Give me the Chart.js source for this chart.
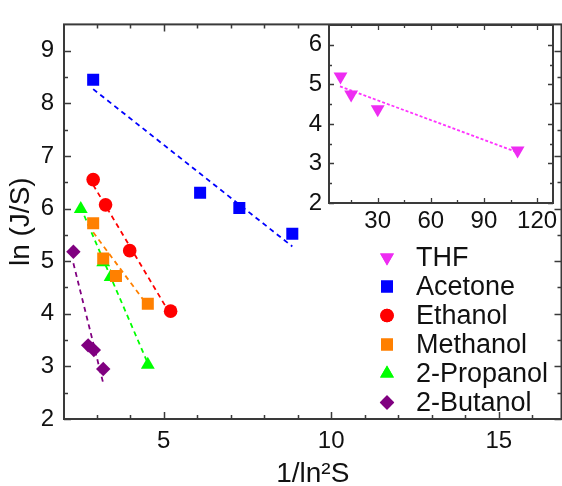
<!DOCTYPE html>
<html><head><meta charset="utf-8">
<script src="https://cdn.jsdelivr.net/npm/chart.js@4/dist/chart.umd.min.js"></script>
<style>
html,body{margin:0;padding:0;background:#fff;overflow:hidden;width:562px;height:486px;}
#main{position:absolute;left:0;top:0;width:570px;height:486px;}
#inset{position:absolute;left:280px;top:0;width:282px;height:240px;}
</style></head><body>
<div id="main"><canvas id="c1" width="570" height="486"></canvas></div>
<div id="inset"><canvas id="c2" width="282" height="240"></canvas></div>
<script>
// ---- data ----
const acetoneX  = [2.90, 6.09, 7.26, 8.84];
const acetoneY  = [8.45, 6.30, 6.01, 5.52];
const ethanolX  = [2.90, 3.27, 3.99, 5.21];
const ethanolY  = [6.55, 6.07, 5.20, 4.05];
const methanolX = [2.90, 3.20, 3.58, 4.53];
const methanolY = [5.72, 5.05, 4.72, 4.19];
const propanolX = [2.53, 3.20, 3.42, 4.53];
const propanolY = [5.99, 4.98, 4.70, 3.03];
const butanolX  = [2.31, 2.75, 2.92, 3.20];
const butanolY  = [5.18, 3.40, 3.31, 2.95];
const thfX      = [9, 15, 30, 109];
const thfY      = [5.20, 4.74, 4.37, 3.33];

// dashed fit lines (end points)
const acetoneFitX  = [2.90, 8.84]; const acetoneFitY  = [8.27, 5.28];
const ethanolFitX  = [2.90, 5.21]; const ethanolFitY  = [6.45, 3.98];
const methanolFitX = [2.90, 4.53]; const methanolFitY = [5.55, 4.15];
const propanolFitX = [2.53, 4.53]; const propanolFitY = [6.02, 3.06];
const butanolFitX  = [2.31, 3.20]; const butanolFitY  = [4.96, 2.68];
const thfFitX      = [8.7, 109];   const thfFitY      = [4.95, 3.28];

// tick labels
const mainXTicks = [5, 10, 15];
const mainYTicks = [2, 3, 4, 5, 6, 7, 8, 9];
const insetXTicks = [30, 60, 90, 120];
const insetYTicks = [2, 3, 4, 5, 6];
const mainXMinor = [3,4,6,7,8,9,11,12,13,14,16];
const mainYMinor = [2.5,3.5,4.5,5.5,6.5,7.5,8.5];
const insetXMinor = [15,45,75,105];
const insetYMinor = [2.5,3.5,4.5,5.5];

const legendLabels = ['THF','Acetone','Ethanol','Methanol','2-Propanol','2-Butanol'];

// ---- helpers ----
const FONT = "'Liberation Sans', Arial, Helvetica, sans-serif";
const AXIS = '#3a3a3a';
const TXT = '#111111';
const pts = (xs, ys) => xs.map((x, i) => ({x, y: ys[i]}));

function markerSet(label, xs, ys, color, style, radius, rotation) {
  return {label, data: pts(xs, ys), backgroundColor: color, borderColor: color,
    borderWidth: 0, pointStyle: style, pointRadius: radius, pointHoverRadius: radius,
    pointRotation: rotation || 0, showLine: false, order: 0};
}
function fitSet(xs, ys, color, dash, width) {
  return {label: '', isFit: true, data: pts(xs, ys), borderColor: color, borderWidth: width || 1.8,
    borderDash: dash || [5, 4], pointRadius: 0, showLine: true, fill: false, order: 10};
}

const framePlugin = {
  id: 'frame',
  afterDraw(chart, args, o) {
    const {ctx, chartArea: {left, right, top, bottom}, scales: {x, y}} = chart;
    ctx.save();
    ctx.strokeStyle = AXIS; ctx.lineCap = 'butt';
    ctx.beginPath();
    const tx = (vals, len) => vals.forEach(v => { const p = Math.round(x.getPixelForValue(v)) + 0.5;
      ctx.moveTo(p, bottom); ctx.lineTo(p, bottom - len); ctx.moveTo(p, top); ctx.lineTo(p, top + len); });
    const ty = (vals, len) => vals.forEach(v => { const p = Math.round(y.getPixelForValue(v)) + 0.5;
      ctx.moveTo(left, p); ctx.lineTo(left + len, p); ctx.moveTo(right, p); ctx.lineTo(right - len, p); });
    ctx.lineWidth = o.tickWidth;
    tx(o.xMajor, o.major); tx(o.xMinor, o.minor); ty(o.yMajor, o.major); ty(o.yMinor, o.minor);
    ctx.stroke();
    ctx.lineWidth = o.lineWidth;
    ctx.strokeRect(left, top, right - left, bottom - top);
    ctx.restore();
  }
};

const whiteArea = {
  id: 'whiteArea',
  beforeDraw(chart) {
    const {ctx, chartArea: {left, right, top, bottom}} = chart;
    ctx.save(); ctx.fillStyle = '#fff'; ctx.fillRect(left, top, right - left, bottom - top); ctx.restore();
  }
};

function drawMarker(ctx, style, r, rot, x, y) {
  if (Chart.helpers && Chart.helpers.drawPoint) {
    Chart.helpers.drawPoint(ctx, {pointStyle: style, radius: r, rotation: rot, borderWidth: 0}, x, y);
    ctx.fill();
    return;
  }
  ctx.beginPath(); ctx.arc(x, y, r, 0, Math.PI * 2); ctx.fill();
}

const legendPlugin = {
  id: 'customLegend',
  afterDraw(chart, args, o) {
    const {ctx} = chart;
    const sets = chart.data.datasets.filter(d => !d.isFit);
    ctx.save();
    ctx.font = o.fontSize + 'px ' + FONT;
    ctx.textBaseline = 'middle';
    sets.forEach((d, i) => {
      const yy = o.y0 + i * o.step;
      ctx.fillStyle = d.backgroundColor;
      drawMarker(ctx, d.pointStyle, d.pointRadius, d.pointRotation, o.mx, yy);
      ctx.fillStyle = TXT;
      ctx.fillText(d.label, o.tx, yy + 1);
    });
    ctx.restore();
  }
};

const noGrid = {display: false, drawTicks: false, tickLength: 0};

// ---- main chart ----
new Chart(document.getElementById('c1'), {
  type: 'scatter',
  data: {datasets: [
    markerSet(legendLabels[0], [], [], '#ee2cf2', 'triangle', 8, 180),
    markerSet(legendLabels[1], acetoneX, acetoneY, '#0000ff', 'rect', 8.5),
    markerSet(legendLabels[2], ethanolX, ethanolY, '#ff0000', 'circle', 6.8),
    markerSet(legendLabels[3], methanolX, methanolY, '#ff8000', 'rect', 8.5),
    markerSet(legendLabels[4], propanolX, propanolY, '#00ff00', 'triangle', 8),
    markerSet(legendLabels[5], butanolX, butanolY, '#800080', 'rectRot', 7.2),
    fitSet(acetoneFitX, acetoneFitY, '#0000ff'),
    fitSet(ethanolFitX, ethanolFitY, '#ff0000'),
    fitSet(methanolFitX, methanolFitY, '#ff8000'),
    fitSet(propanolFitX, propanolFitY, '#00ff00'),
    fitSet(butanolFitX, butanolFitY, '#800080')
  ]},
  options: {
    responsive: false, animation: false, devicePixelRatio: 1,
    layout: {padding: {top: 14, right: 6, left: 0, bottom: 0}},
    plugins: {
      legend: {display: false}, tooltip: {enabled: false},
      frame: {lineWidth: 2, tickWidth: 1.5, major: 7, minor: 4,
        xMajor: mainXTicks, xMinor: mainXMinor, yMajor: mainYTicks, yMinor: mainYMinor},
      customLegend: {mx: 387, tx: 416, y0: 257.5, step: 29, fontSize: 27}
    },
    scales: {
      x: {type: 'linear', position: 'bottom', min: 2.03, max: 16.87,
        afterBuildTicks: s => { s.ticks = mainXTicks.map(v => ({value: v})); },
        afterFit: s => { s.height = 67; },
        grid: noGrid, border: {display: false},
        ticks: {font: {family: FONT, size: 24}, color: TXT, padding: 8, maxRotation: 0, autoSkip: false},
        title: {display: true, text: '1/ln²S', font: {family: FONT, size: 28, lineHeight: 0.85}, color: TXT, padding: {top: 0, bottom: 0}}
      },
      y: {type: 'linear', position: 'left', min: 2, max: 9.5,
        afterBuildTicks: s => { s.ticks = mainYTicks.map(v => ({value: v})); },
        afterFit: s => { s.width = 64; },
        grid: noGrid, border: {display: false},
        ticks: {font: {family: FONT, size: 24}, color: TXT, padding: 10, autoSkip: false},
        title: {display: true, text: 'ln (J/S)', font: {family: FONT, size: 28, lineHeight: 1}, color: TXT, padding: {top: 7, bottom: 0}}
      }
    }
  },
  plugins: [framePlugin, legendPlugin]
});

// ---- inset chart ----
new Chart(document.getElementById('c2'), {
  type: 'scatter',
  data: {datasets: [
    markerSet(legendLabels[0], thfX, thfY, '#ee2cf2', 'triangle', 8, 180),
    fitSet(thfFitX, thfFitY, '#ff33ff', [3, 2], 1.8)
  ]},
  options: {
    responsive: false, animation: false, devicePixelRatio: 1,
    layout: {padding: {top: 25, right: 9, left: 0, bottom: 0}},
    plugins: {
      legend: {display: false}, tooltip: {enabled: false},
      frame: {lineWidth: 2, tickWidth: 1.3, major: 5, minor: 3,
        xMajor: insetXTicks, xMinor: insetXMinor, yMajor: insetYTicks, yMinor: insetYMinor}
    },
    scales: {
      x: {type: 'linear', min: 2.5, max: 129,
        afterBuildTicks: s => { s.ticks = insetXTicks.map(v => ({value: v})); },
        afterFit: s => { s.height = 37; },
        grid: noGrid, border: {display: false},
        ticks: {font: {family: FONT, size: 24}, color: TXT, padding: 4, maxRotation: 0, autoSkip: false}
      },
      y: {type: 'linear', min: 2, max: 6.5,
        afterBuildTicks: s => { s.ticks = insetYTicks.map(v => ({value: v})); },
        afterFit: s => { s.width = 49; },
        grid: noGrid, border: {display: false},
        ticks: {font: {family: FONT, size: 24}, color: TXT, padding: 7, autoSkip: false}
      }
    }
  },
  plugins: [whiteArea, framePlugin]
});
</script>
</body></html>
